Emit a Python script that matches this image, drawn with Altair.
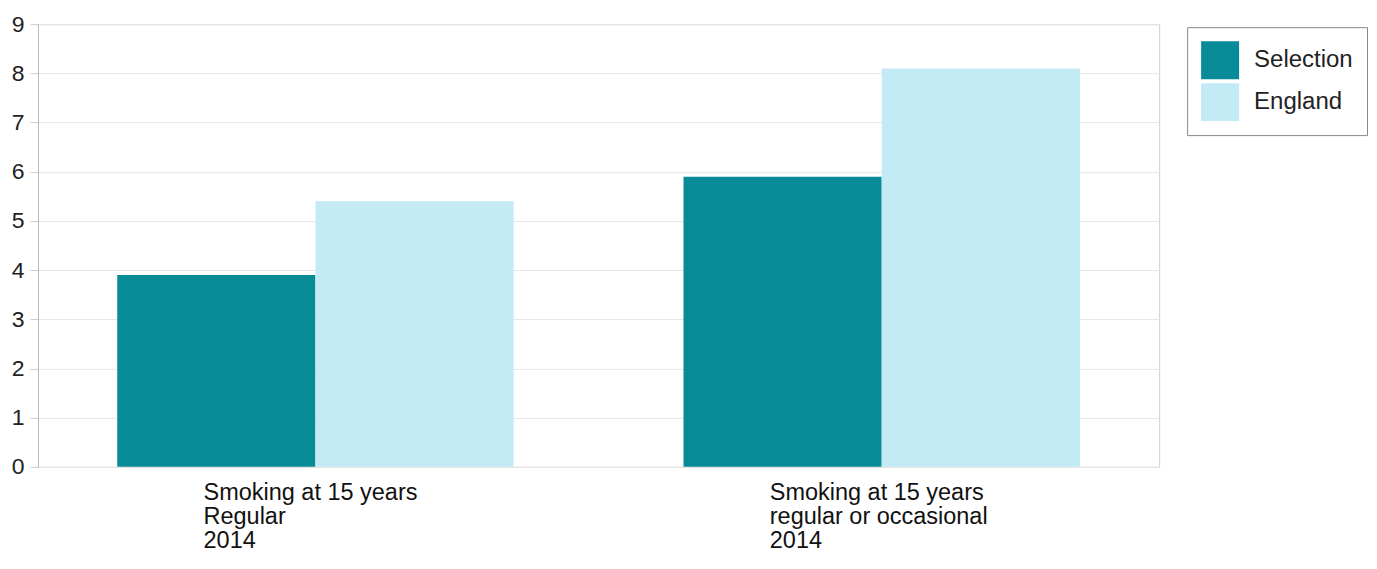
import altair as alt
import pandas as pd

categories = ["Smoking at 15 years|Regular|2014",
              "Smoking at 15 years|regular or occasional|2014"]
series = ["Selection", "England"]
selection_values = [3.9, 5.9]
england_values = [5.4, 8.1]
y_ticks = [0, 1, 2, 3, 4, 5, 6, 7, 8, 9]
colors = ["#078b96", "#c2ebf5"]

rows = []
for c, s_val, e_val in zip(categories, selection_values, england_values):
    rows.append({"category": c, "series": "Selection", "value": s_val})
    rows.append({"category": c, "series": "England", "value": e_val})
df = pd.DataFrame(rows)

FONT = "Liberation Sans"

chart = alt.Chart(df).mark_bar().encode(
    x=alt.X("category:N", sort=categories, title=None,
            scale=alt.Scale(paddingInner=0.3, paddingOuter=0.14),
            axis=alt.Axis(labelAngle=0, labelAlign="left", labelOffset=-112,
                          labelExpr="split(datum.label, '|')", labelLimit=0,
                          labelFont=FONT, labelFontSize=23.5, labelColor="#111",
                          labelLineHeight=24, labelPadding=14, labelBaseline="top",
                          ticks=False, domain=False, grid=False)),
    xOffset=alt.XOffset("series:N", sort=series),
    y=alt.Y("value:Q", title=None,
            scale=alt.Scale(domain=[0, 9], nice=False),
            axis=alt.Axis(values=y_ticks, labelFont=FONT, labelFontSize=23,
                          labelColor="#222", tickSize=8, tickColor="#ccc",
                          labelPadding=6, domainColor="#bbb", gridColor="#e6e6e6",
                          gridWidth=1)),
    color=alt.Color("series:N", sort=series,
                    scale=alt.Scale(domain=series, range=colors),
                    legend=alt.Legend(title=None, orient="none", legendX=1150, legendY=3,
                                      symbolType="square", symbolSize=1444,
                                      symbolStrokeWidth=0, labelFont=FONT,
                                      labelFontSize=24, labelColor="#222",
                                      labelOffset=15, rowPadding=4, padding=14,
                                      strokeColor="#888", fillColor="white")),
).properties(
    width=1122, height=443,
    autosize=alt.AutoSizeParams(type="none"),
    padding={"left": 30, "top": 16, "right": 210, "bottom": 90},
).configure_view(stroke="#d0d0d0", strokeWidth=1)

chart.save("out.html", embed_options={"renderer": "svg", "actions": False})
